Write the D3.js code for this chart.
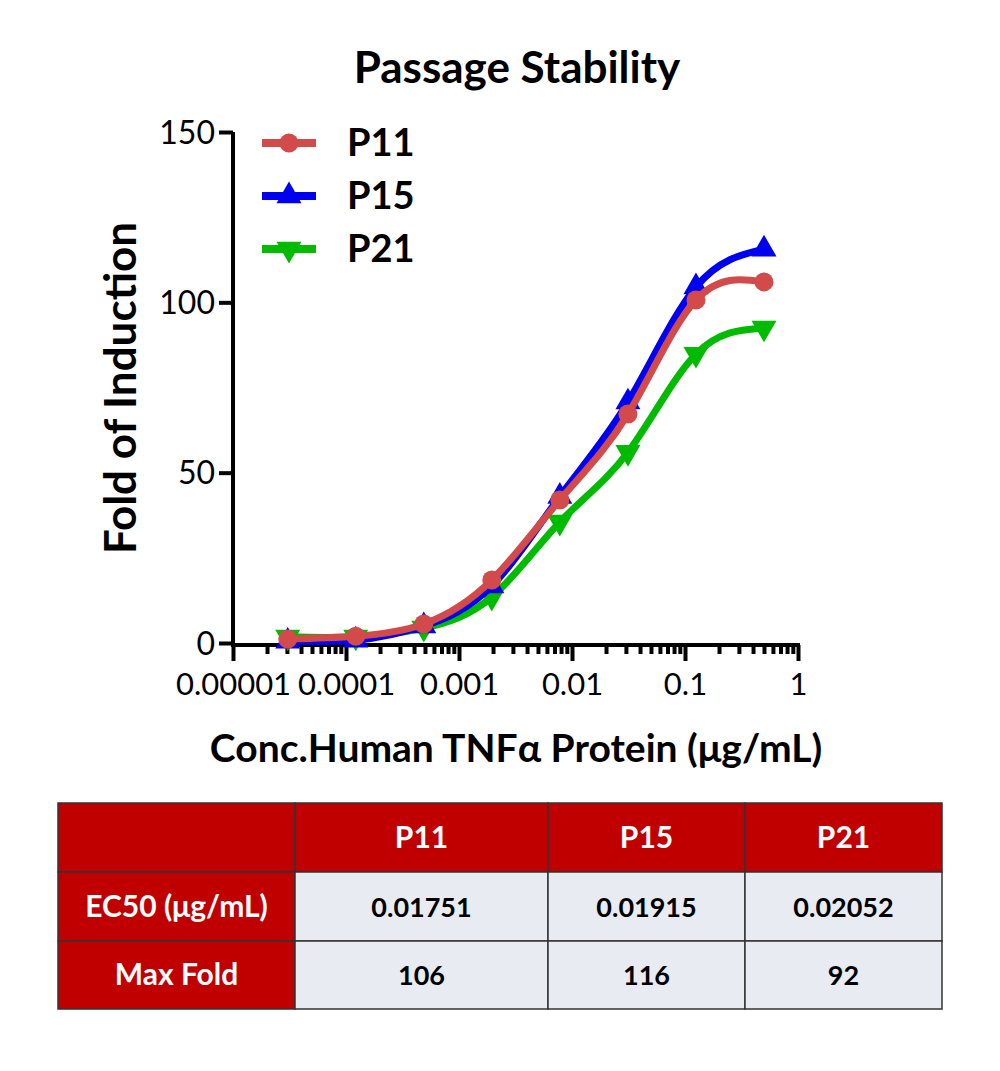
<!DOCTYPE html>
<html>
<head>
<meta charset="utf-8">
<script src="https://cdn.jsdelivr.net/npm/d3@7"></script>
<style>
  body { margin: 0; background: #fff; }
  text { font-family: Lato, "Open Sans", sans-serif; }
</style>
</head>
<body>
<div id="chart"></div>
<script>
// 4-fold dilution series, ug/mL
const conc = [0.0000305, 0.000122, 0.000488, 0.00195, 0.0078, 0.03125, 0.125, 0.5];
const p11 = [1.2, 2.0, 5.6, 18.5, 42, 67.2, 100.7, 106];
const p15 = [0.5, 0.8, 5.0, 16.7, 43, 70.7, 104.5, 115.6];
const p21 = [1.8, 1.8, 4.4, 13.5, 35.5, 56, 84.8, 92.5];
const seriesNames = ["P11", "P15", "P21"];
const seriesColors = ["#d24a4a", "#0000f0", "#00bb00"];
const seriesSymbols = ["circle", "up", "down"];
const yTicks = [0, 50, 100, 150];
const xTicks = [0.00001, 0.0001, 0.001, 0.01, 0.1, 1];
const xTickLabels = ["0.00001", "0.0001", "0.001", "0.01", "0.1", "1"];
const tableCols = ["", "P11", "P15", "P21"];
const tableRows = [
  ["EC50 (μg/mL)", "0.01751", "0.01915", "0.02052"],
  ["Max Fold", "106", "116", "92"]
];

const W = 1000, H = 1071;
const svg = d3.select("#chart").append("svg").attr("width", W).attr("height", H);

const x = d3.scaleLog().domain([0.00001, 1]).range([233, 798]);
const y = d3.scaleLinear().domain([0, 150]).range([643, 132]);

// title
svg.append("text").attr("x", 517).attr("y", 83).attr("text-anchor", "middle")
  .style("font-size", "44px").style("font-weight", "bold").text("Passage Stability");

// y axis
const yAxis = svg.append("g").attr("transform", "translate(233,0)")
  .call(d3.axisLeft(y).tickValues(yTicks).tickSize(14).tickPadding(4));
yAxis.select(".domain").attr("stroke-width", 4).attr("d", "M0," + y(150) + "V" + y(0));
yAxis.selectAll(".tick line").attr("stroke-width", 4);
yAxis.selectAll(".tick text").style("font-size", "32px").attr("dy", "0.35em");

// x axis, minor ticks
const minors = [];
for (let e = -5; e < 0; e++) for (let m = 2; m <= 9; m++) minors.push(m * Math.pow(10, e));
const xMinor = svg.append("g").attr("transform", "translate(0,645)")
  .call(d3.axisBottom(x).tickValues(minors).tickSize(9).tickFormat(""));
xMinor.select(".domain").remove();
xMinor.selectAll(".tick line").attr("stroke-width", 4);

const xAxis = svg.append("g").attr("transform", "translate(0,645)")
  .call(d3.axisBottom(x).tickValues(xTicks).tickSize(16).tickPadding(12)
    .tickFormat((d, i) => xTickLabels[i]));
xAxis.select(".domain").attr("stroke-width", 4).attr("d", "M" + (x(0.00001) - 2) + ",0H" + (x(1) + 2));
xAxis.selectAll(".tick line").attr("stroke-width", 4);
xAxis.selectAll(".tick text").style("font-size", "31px");

// axis titles
svg.append("text").attr("transform", "translate(136,388) rotate(-90)").attr("text-anchor", "middle")
  .style("font-size", "44px").style("font-weight", "bold").text("Fold of Induction");
svg.append("text").attr("x", 516).attr("y", 762).attr("text-anchor", "middle")
  .style("font-size", "39px").style("font-weight", "bold").text("Conc.Human TNFα Protein (μg/mL)");

const allSeries = [p11, p15, p21];
const tri = d3.symbol().type(d3.symbolTriangle).size(270);
function drawMarker(g, kind, color, cx, cy) {
  if (kind === "circle") {
    g.append("circle").attr("cx", cx).attr("cy", cy).attr("r", 9.5).attr("fill", color);
  } else {
    g.append("path").attr("d", tri())
      .attr("transform", "translate(" + cx + "," + cy + ")" + (kind === "down" ? " rotate(180)" : ""))
      .attr("fill", color);
  }
}

const line = d3.line().curve(d3.curveNatural).x(d => x(d[0])).y(d => y(d[1]));
// draw in order P21, P15, P11 so red on top
[2, 1, 0].forEach(i => {
  const g = svg.append("g");
  const pts = conc.map((c, j) => [c, allSeries[i][j]]);
  g.append("path").attr("d", line(pts)).attr("fill", "none")
    .attr("stroke", seriesColors[i]).attr("stroke-width", 7);
  pts.forEach(p => drawMarker(g, seriesSymbols[i], seriesColors[i], x(p[0]), y(p[1])));
});

// legend
const legend = svg.append("g");
seriesNames.forEach((name, i) => {
  const ly = 143 + i * 53;
  legend.append("line").attr("x1", 262).attr("x2", 316).attr("y1", ly).attr("y2", ly)
    .attr("stroke", seriesColors[i]).attr("stroke-width", 8);
  drawMarker(legend, seriesSymbols[i], seriesColors[i], 289, ly);
  legend.append("text").attr("x", 347).attr("y", ly + 13)
    .style("font-size", "38px").style("font-weight", "bold").text(name);
});

// table
const colX = [58, 295, 548, 745, 942];
const rowY = [803, 872, 941, 1009];
const tbl = svg.append("g");
const rowsAll = [tableCols].concat(tableRows);
rowsAll.forEach((row, r) => {
  row.forEach((cell, c) => {
    const red = r === 0 || c === 0;
    tbl.append("rect").attr("x", colX[c]).attr("y", rowY[r])
      .attr("width", colX[c + 1] - colX[c]).attr("height", rowY[r + 1] - rowY[r])
      .attr("fill", red ? "#c00000" : "#e9ebf2").attr("stroke", "#333").attr("stroke-width", 1.5);
    tbl.append("text").attr("x", (colX[c] + colX[c + 1]) / 2).attr("y", (rowY[r] + rowY[r + 1]) / 2 + 10)
      .attr("text-anchor", "middle").style("font-size", red ? "30px" : "27px").style("font-weight", "bold")
      .attr("fill", red ? "#fff" : "#000").text(cell);
  });
});
</script>
</body>
</html>
